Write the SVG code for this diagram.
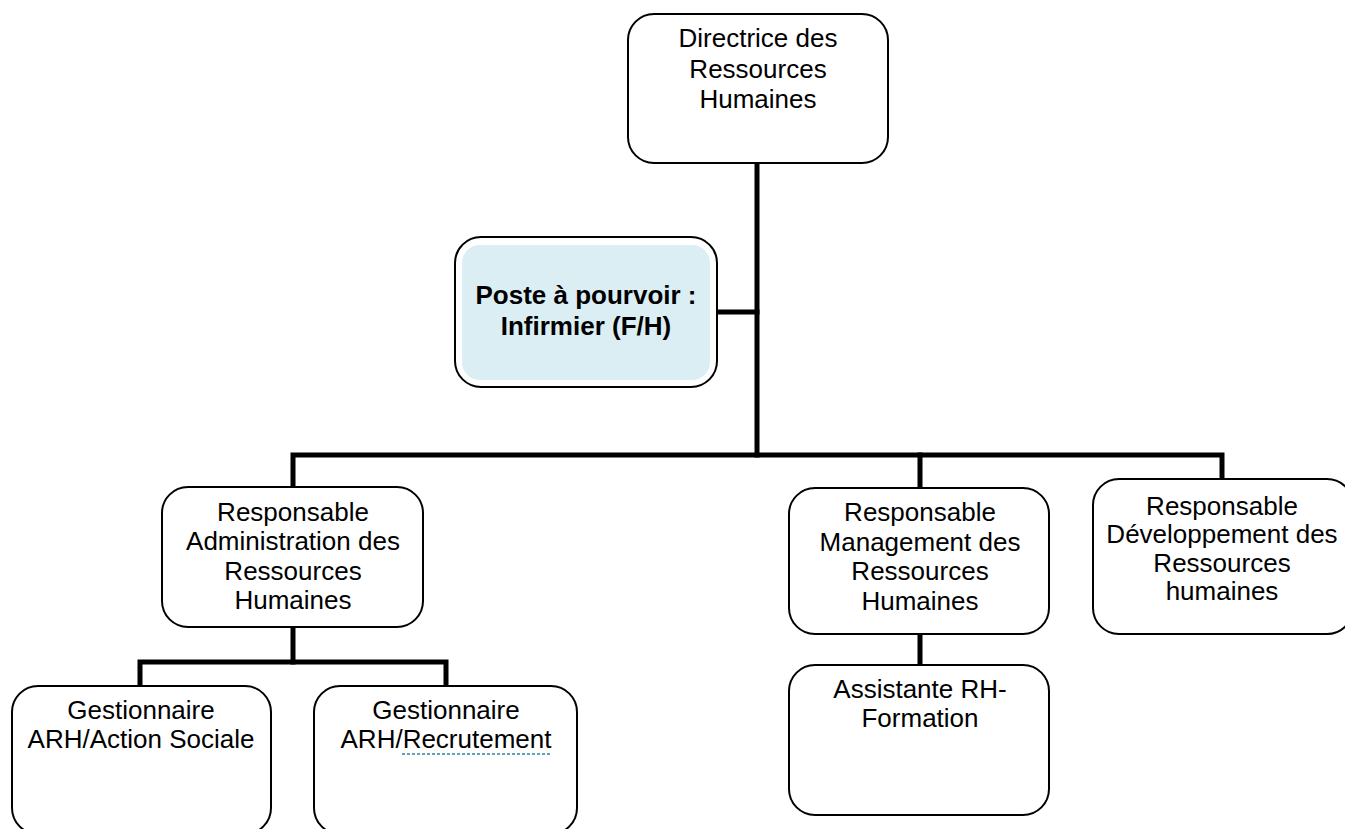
<svg xmlns="http://www.w3.org/2000/svg" width="1345" height="829" viewBox="0 0 1345 829">
<style>
.box{fill:#fff;stroke:#000;stroke-width:2}
.t{font-family:"Liberation Sans",Arial,sans-serif;font-size:26px;fill:#000;text-anchor:middle}
.b{font-weight:bold}
.c{fill:none;stroke:#000;stroke-width:5;stroke-linejoin:miter;stroke-linecap:square}
</style>
<rect width="1345" height="829" fill="#fff"/>
<g id="connectors">
<path class="c" d="M757 163V455"/>
<path class="c" d="M717 312H757"/>
<path class="c" d="M293 487V455H1222V479"/>
<path class="c" d="M920 455V488"/>
<path class="c" d="M293 627V662"/>
<path class="c" d="M140 686V662H446V686"/>
<path class="c" d="M920 634V665"/>
</g>
<g id="directrice">
<rect class="box" x="628" y="14" width="260" height="149" rx="26"/>
<text class="t" x="758" y="47">Directrice des</text>
<text class="t" x="758" y="78">Ressources</text>
<text class="t" x="758" y="108">Humaines</text>
</g>
<g id="poste">
<rect class="box" x="455" y="237" width="262" height="150" rx="26"/>
<rect x="462" y="245" width="248" height="135" rx="18" fill="#DAEEF3"/>
<text class="t b" x="586" y="304">Poste à pourvoir :</text>
<text class="t b" x="586" y="335">Infirmier (F/H)</text>
</g>
<g id="resp-admin">
<rect class="box" x="162" y="487" width="261" height="140" rx="26"/>
<text class="t" x="293" y="521">Responsable</text>
<text class="t" x="293" y="550">Administration des</text>
<text class="t" x="293" y="580">Ressources</text>
<text class="t" x="293" y="609">Humaines</text>
</g>
<g id="resp-management">
<rect class="box" x="789" y="488" width="260" height="146" rx="26"/>
<text class="t" x="920" y="521">Responsable</text>
<text class="t" x="920" y="551">Management des</text>
<text class="t" x="920" y="580">Ressources</text>
<text class="t" x="920" y="610">Humaines</text>
</g>
<g id="resp-dev">
<rect class="box" x="1093" y="479" width="260" height="155" rx="26"/>
<text class="t" x="1222" y="515">Responsable</text>
<text class="t" x="1222" y="543">Développement des</text>
<text class="t" x="1222" y="572">Ressources</text>
<text class="t" x="1222" y="600">humaines</text>
</g>
<g id="gest-action-sociale">
<rect class="box" x="12" y="686" width="259" height="148" rx="26"/>
<text class="t" x="141" y="719">Gestionnaire</text>
<text class="t" x="141" y="748">ARH/Action Sociale</text>
</g>
<g id="gest-recrutement">
<rect class="box" x="314" y="686" width="263" height="148" rx="26"/>
<text class="t" x="446" y="719">Gestionnaire</text>
<text class="t" x="446" y="748">ARH/Recrutement</text>
<path d="M402 754H552" stroke="#31849B" stroke-width="1.5" stroke-dasharray="3 2" fill="none"/>
</g>
<g id="assistante">
<rect class="box" x="789" y="665" width="260" height="150" rx="26"/>
<text class="t" x="920" y="698">Assistante RH-</text>
<text class="t" x="920" y="727">Formation</text>
</g>
</svg>
